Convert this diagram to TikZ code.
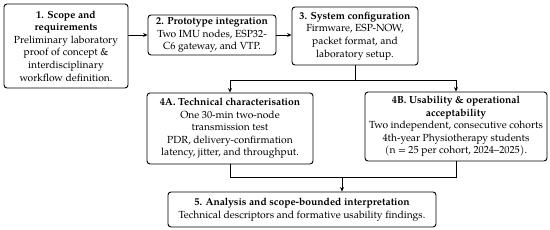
\documentclass[tikz,border=0pt]{standalone}
\usepackage{fontspec}
\setmainfont{TeX Gyre Pagella}
\usetikzlibrary{arrows.meta}
\tikzset{
  box/.style={draw, line width=0.9pt, rounded corners=3pt, align=center, inner sep=1pt,
    font=\fontsize{10.3}{12.6}\selectfont, fill=white},
  conn/.style={line width=0.8pt},
  arr/.style={line width=0.8pt, -{Stealth[length=4.5pt,width=4pt]}}
}
\begin{document}
\begin{tikzpicture}[x=1pt,y=-1pt]
\useasboundingbox (0,0) rectangle (550,230);
\node[box, minimum width=124pt, minimum height=84pt] (b1) at (66,46)
  {\textbf{1. Scope and}\\\textbf{requirements}\\Preliminary laboratory\\proof of concept \&\\interdisciplinary\\workflow definition.};
\node[box, minimum width=128pt, minimum height=40pt] (b2) at (212,35)
  {\textbf{2. Prototype integration}\\Two IMU nodes, ESP32-\\C6 gateway, and VTP.};
\node[box, minimum width=126pt, minimum height=58pt] (b3) at (355,36)
  {\textbf{3. System configuration}\\Firmware, ESP-NOW,\\packet format, and\\laboratory setup.};
\node[box, minimum width=166pt, minimum height=71pt] (a4) at (230,128.5)
  {\textbf{4A. Technical characterisation}\\One 30-min two-node\\transmission test\\PDR, delivery-confirmation\\latency, jitter, and throughput.};
\node[box, minimum width=182pt, minimum height=69pt] (b4) at (456,126.5)
  {\textbf{4B. Usability \& operational}\\\textbf{acceptability}\\Two independent, consecutive cohorts\\4th-year Physiotherapy students\\(n = 25 per cohort, 2024--2025).};
\node[box, minimum width=268pt, minimum height=35pt] (b5) at (302,209.5)
  {\textbf{5. Analysis and scope-bounded interpretation}\\Technical descriptors and formative usability findings.};
\coordinate (sp) at (355,80);
\coordinate (mg) at (342,177);
\draw[arr] (b1.east |- b2.west) -- (b2.west);
\draw[arr] (b2.east) -- (b3.west |- b2.east);
\draw[conn] (b3.south) -- (sp);
\draw[arr] (sp) -| (a4.north);
\draw[arr] (sp) -| (b4.north);
\draw[conn] (a4.south) |- (mg);
\draw[conn] (b4.south) |- (mg);
\draw[arr] (mg) -- (mg |- b5.north);
\end{tikzpicture}
\end{document}
